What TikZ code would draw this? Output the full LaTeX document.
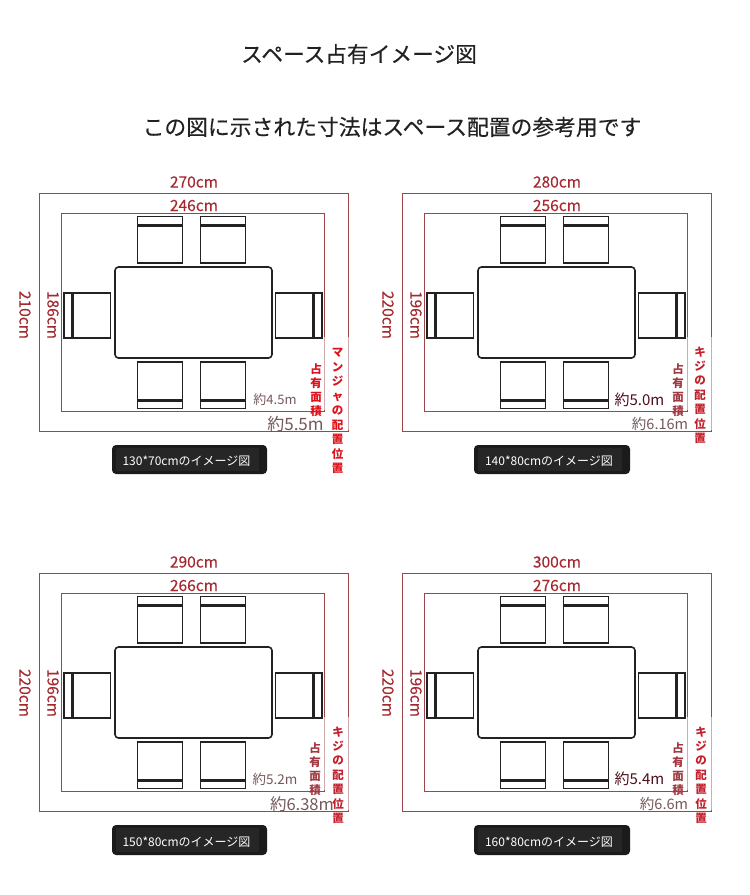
\documentclass[tikz,border=0pt]{standalone}
\usepackage{fontspec}
\setmainfont{Noto Sans CJK JP}
\newfontfamily\heavyfont[FakeBold=0.3]{Noto Sans CJK JP}
\newfontfamily\midfont[FakeBold=0.12]{Noto Sans CJK JP}
\definecolor{rline}{HTML}{9A464A}
\definecolor{rtext}{HTML}{A5282E}
\definecolor{ink}{HTML}{222222}
\definecolor{greytext}{HTML}{75585A}
\definecolor{darktext}{HTML}{4F0E1C}
\definecolor{pure}{HTML}{E0101A}
\definecolor{deepred}{HTML}{C4202C}
\definecolor{capbox}{HTML}{1B1B1B}
\definecolor{capin}{HTML}{262626}
\tikzset{
  redrect/.style={draw=rline,line width=1pt},
  chairbox/.style={draw=ink,line width=1.6pt,fill=white},
  chairbar/.style={draw=ink,line width=3pt},
  tablebox/.style={draw=ink,line width=1.6pt,rounded corners=3.5pt,fill=white},
  dim/.style={text=rtext,font=\midfont\fontsize{15.5}{17}\selectfont,inner sep=0pt},
  dimv/.style={dim,rotate=-90},
  area/.style={inner sep=1pt,fill=white},
  vstack/.style={align=center,inner sep=0pt,font=\bfseries\fontsize{11.5}{14.2}\selectfont},
  capt/.style={text=white,font=\fontsize{12}{14}\selectfont,inner sep=0pt},
  capbg/.style={fill=capbox,rounded corners=4pt},
  capinner/.style={fill=capin},
  fade/.style={draw=white,opacity=0.55,line width=1.6pt},
  titletext/.style={text=ink,inner sep=0pt}
}
\newcommand{\basepanel}[2]{%
  \begin{scope}[shift={(#1,#2)}]
    \draw[redrect] (39,193) rectangle (348.5,431);
    \draw[redrect] (61.5,213) rectangle (324.5,411);
    % top chairs
    \foreach \cx in {137.5,200.5}{
      \draw[chairbox] (\cx,216.5) rectangle +(45,46.5);
      \draw[chairbar] (\cx,225) -- +(45,0);
      \draw[chairbox] (\cx,362) rectangle +(45,46.5);
      \draw[chairbar] (\cx,400) -- +(45,0);
    }
    % side chairs
    \draw[chairbox] (64,293) rectangle (110.5,338);
    \draw[chairbar] (72.5,293) -- (72.5,338);
    \draw[chairbox] (275.5,293) rectangle (322,338);
    \draw[chairbar] (313.5,293) -- (313.5,338);
    % table
    \draw[tablebox] (115,267) rectangle (272,358);
    % faded lower right
    \draw[fade] (348.5,337) -- (348.5,430);
    \draw[fade] (324.5,337) -- (324.5,410);
  \end{scope}}
\newcommand{\capbox}[5]{%
  \fill[capbg] (#1,#2) rectangle (#3,#4);
  \fill[capinner] ({#1+4},{#2+3}) rectangle ({#3-8},{#4-3});
  \node[capt] at ({(#1+#3)/2-3},{(#2+#4)/2+2}) {#5};}
\begin{document}
\begin{tikzpicture}[x=1pt,y=-1pt]
\useasboundingbox (0,0) rectangle (750,895);
\fill[white] (0,0) rectangle (750,895);
\node[titletext,font=\heavyfont\fontsize{21.7}{24}\selectfont] (title) at (359,54) {スペース占有イメージ図};
\node[titletext,font=\heavyfont\fontsize{21.8}{24}\selectfont] (subtitle) at (392,127) {この図に示された寸法はスペース配置の参考用です};

\basepanel{0}{0}
\basepanel{363}{0}
\basepanel{0}{380}
\basepanel{363}{380}

% panel A
\node[dim] (aw1) at (194,182) {270cm};
\node[dim] (aw2) at (194,205.5) {246cm};
\node[dimv] (ah1) at (25,315) {210cm};
\node[dimv] (ah2) at (53,315) {186cm};
\node[area,text=greytext,font=\fontsize{13}{15}\selectfont] (aa1) at (275,399.5) {約4.5m};
\node[area,text=greytext,font=\fontsize{17}{19}\selectfont,fill opacity=0,text opacity=1] (aa2) at (295.5,424.5) {約5.5m};
\node[vstack,text=pure] (as1) at (316,390) {占\\有\\面\\積};
\node[vstack,text=pure,font=\bfseries\fontsize{11.5}{14.5}\selectfont] (as2) at (337.5,411) {マ\\ン\\ジ\\ャ\\の\\配\\置\\位\\置};
\capbox{112}{445}{267}{474}{130*70cmのイメージ図}

% panel B
\node[dim] (bw1) at (557,182) {280cm};
\node[dim] (bw2) at (557,205.5) {256cm};
\node[dimv] (bh1) at (388,315) {220cm};
\node[dimv] (bh2) at (416,315) {196cm};
\node[area,text=darktext,font=\fontsize{15}{16}\selectfont] (ba1) at (639.5,400) {約5.0m};
\node[area,text=greytext,font=\fontsize{14.5}{16}\selectfont,fill opacity=0,text opacity=1] (ba2) at (660,424) {約6.16m};
\node[vstack,text=greytext!45!deepred] (bs1) at (678,390) {占\\有\\面\\積};
\node[vstack,text=deepred,font=\bfseries\fontsize{11.5}{14.4}\selectfont] (bs2) at (700,395) {キ\\ジ\\の\\配\\置\\位\\置};
\capbox{474}{445}{630}{474}{140*80cmのイメージ図}

% panel C
\node[dim] (cw1) at (194,562) {290cm};
\node[dim] (cw2) at (194,585.5) {266cm};
\node[dimv] (ch1) at (25,693) {220cm};
\node[dimv] (ch2) at (53,693) {196cm};
\node[area,text=greytext,font=\fontsize{13.5}{15}\selectfont] (ca1) at (275,779) {約5.2m};
\node[area,text=greytext,font=\fontsize{16.5}{19}\selectfont,fill opacity=0,text opacity=1] (ca2) at (302,804) {約6.38m};
\node[vstack,text=greytext!45!deepred] (cs1) at (315,769) {占\\有\\面\\積};
\node[vstack,text=deepred,font=\bfseries\fontsize{11.5}{14.4}\selectfont] (cs2) at (338,775) {キ\\ジ\\の\\配\\置\\位\\置};
\capbox{112}{825}{267}{855}{150*80cmのイメージ図}

% panel D
\node[dim] (dw1) at (557,562) {300cm};
\node[dim] (dw2) at (557,585.5) {276cm};
\node[dimv] (dh1) at (388,693) {220cm};
\node[dimv] (dh2) at (416,693) {196cm};
\node[area,text=darktext,font=\fontsize{15}{16}\selectfont] (da1) at (639.5,779) {約5.4m};
\node[area,text=greytext,font=\fontsize{14.5}{16}\selectfont,fill opacity=0,text opacity=1] (da2) at (664,804) {約6.6m};
\node[vstack,text=greytext!45!deepred] (ds1) at (678,769) {占\\有\\面\\積};
\node[vstack,text=deepred,font=\bfseries\fontsize{11.5}{14.4}\selectfont] (ds2) at (701,775) {キ\\ジ\\の\\配\\置\\位\\置};
\capbox{474}{825}{630}{855}{160*80cmのイメージ図}
\end{tikzpicture}
\end{document}
